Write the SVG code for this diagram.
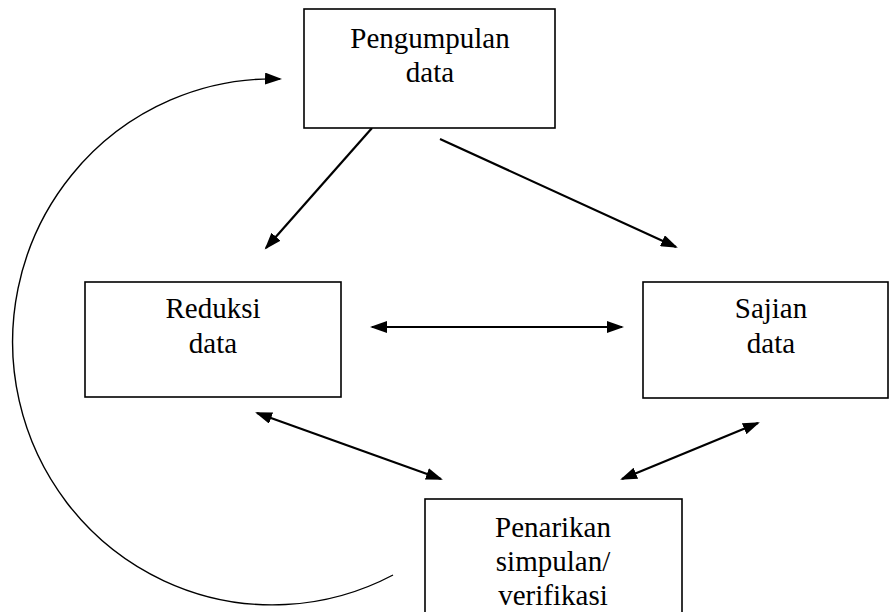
<svg xmlns="http://www.w3.org/2000/svg" width="890" height="612" viewBox="0 0 890 612">
  <style>
    .box { fill: #fff; stroke: #000; stroke-width: 1.6; }
    .lbl { font-family: 'Liberation Serif', 'Times New Roman', serif; font-size: 29px; fill: #000; text-anchor: middle; }
    .conn { fill: none; stroke: #000; stroke-width: 2.2; }
    .curve { fill: none; stroke: #000; stroke-width: 1.4; }
  </style>
  <defs>
    <marker id="ah" markerUnits="userSpaceOnUse" markerWidth="18" markerHeight="12" refX="15" refY="6" orient="auto-start-reverse">
      <path d="M0,0 L17,6 L0,12 z" fill="#000"/>
    </marker>
  </defs>
  <rect width="890" height="612" fill="#fff"/>
  <g id="connectors">
    <path class="curve" d="M393,575 A260,263 0 1 1 280,79" marker-end="url(#ah)"/>
    <line class="conn" x1="372" y1="128" x2="266" y2="248" marker-end="url(#ah)"/>
    <line class="conn" x1="440" y1="139" x2="676" y2="247" marker-end="url(#ah)"/>
    <line class="conn" x1="372" y1="327" x2="622" y2="327" marker-start="url(#ah)" marker-end="url(#ah)"/>
    <line class="conn" x1="257" y1="413" x2="441" y2="479" marker-start="url(#ah)" marker-end="url(#ah)"/>
    <line class="conn" x1="758" y1="423" x2="622" y2="479" marker-start="url(#ah)" marker-end="url(#ah)"/>
  </g>
  <g id="node-pengumpulan">
    <rect class="box" x="304" y="9" width="251" height="119"/>
    <text class="lbl" x="430" y="48">Pengumpulan</text>
    <text class="lbl" x="430" y="82">data</text>
  </g>
  <g id="node-reduksi">
    <rect class="box" x="85" y="282" width="256" height="115"/>
    <text class="lbl" x="213" y="318">Reduksi</text>
    <text class="lbl" x="213" y="353">data</text>
  </g>
  <g id="node-sajian">
    <rect class="box" x="643" y="282" width="245" height="116"/>
    <text class="lbl" x="771" y="318">Sajian</text>
    <text class="lbl" x="771" y="353">data</text>
  </g>
  <g id="node-penarikan">
    <rect class="box" x="425" y="499" width="257" height="130"/>
    <text class="lbl" x="553" y="537">Penarikan</text>
    <text class="lbl" x="553" y="571">simpulan/</text>
    <text class="lbl" x="553" y="605">verifikasi</text>
  </g>
</svg>
